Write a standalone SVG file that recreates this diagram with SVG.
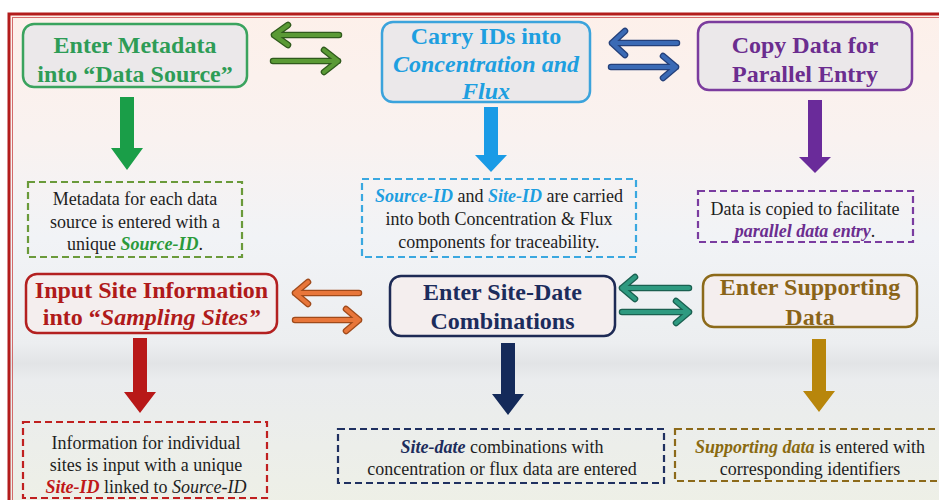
<svg xmlns="http://www.w3.org/2000/svg" width="939" height="500" viewBox="0 0 939 500">
<defs>
<linearGradient id="bg" x1="0" y1="0" x2="0" y2="1">
<stop offset="0" stop-color="#fdf0ea"/>
<stop offset="0.25" stop-color="#f9f2f0"/>
<stop offset="0.45" stop-color="#f1f3f6"/>
<stop offset="0.66" stop-color="#eceef0"/>
<stop offset="0.7" stop-color="#e2e4e6"/>
<stop offset="0.73" stop-color="#eaecee"/>
<stop offset="1" stop-color="#eef0e6"/>
</linearGradient>
<style>
.title{font-family:"Liberation Serif","Times New Roman",serif;font-weight:bold;font-size:24px;text-anchor:middle}
.det{font-family:"Liberation Serif","Times New Roman",serif;font-size:18px;text-anchor:middle;fill:#1e1e1e}
.bi{font-weight:bold;font-style:italic}
.it{font-style:italic}
.node{stroke-width:2.5}
.dash{stroke-width:2.2;stroke-dasharray:7 4;fill:none}
.out{fill:none;stroke-width:6.5;stroke-linecap:round;stroke-linejoin:round}
.in{fill:none;stroke-width:4;stroke-linecap:round;stroke-linejoin:round}
</style>
</defs>
<rect x="0" y="0" width="939" height="500" fill="#ffffff"/>
<rect x="9" y="14" width="940" height="500" fill="url(#bg)" stroke="#b31c1c" stroke-width="3"/>
<rect x="12.5" y="17.5" width="940" height="500" fill="none" stroke="#d46a6a" stroke-width="1"/>

<g id="n1">
<rect class="node" x="23" y="24" width="224" height="63" rx="11" fill="#ebe8ea" stroke="#3aa35e"/>
<text class="title" fill="#2e9c56" x="135" y="53">Enter Metadata</text>
<text class="title" fill="#2e9c56" x="135" y="82">into “Data Source”</text>
</g>
<g id="n2">
<rect class="node" x="382" y="22" width="208" height="80" rx="11" fill="#ebe8ea" stroke="#3ba3dc"/>
<text class="title" fill="#1e9fe0" x="486" y="44">Carry IDs into</text>
<text class="title bi" fill="#1e9fe0" x="486" y="72">Concentration and</text>
<text class="title bi" fill="#1e9fe0" x="486" y="99">Flux</text>
</g>
<g id="n3">
<rect class="node" x="698" y="22" width="214" height="68" rx="11" fill="#ebe8ea" stroke="#7b3c9e"/>
<text class="title" fill="#6b2d8f" x="805" y="53">Copy Data for</text>
<text class="title" fill="#6b2d8f" x="805" y="82">Parallel Entry</text>
</g>
<g id="d1">
<rect class="dash" x="28" y="182" width="214" height="75" stroke="#6a9a3a"/>
<text class="det" x="135" y="205">Metadata for each data</text>
<text class="det" x="135" y="228">source is entered with a</text>
<text class="det" x="135" y="250">unique <tspan class="bi" fill="#2a9a3a">Source-ID</tspan>.</text>
</g>
<g id="d2">
<rect class="dash" x="362" y="179" width="274" height="78" stroke="#3aa8e0"/>
<text class="det" x="499" y="202"><tspan class="bi" fill="#1e9ee0">Source-ID</tspan> and <tspan class="bi" fill="#1e9ee0">Site-ID</tspan> are carried</text>
<text class="det" x="499" y="225">into both Concentration &amp; Flux</text>
<text class="det" x="499" y="248">components for traceability.</text>
</g>
<g id="d3">
<rect class="dash" x="698" y="191" width="215" height="51" stroke="#7a3ca0"/>
<text class="det" x="805" y="215">Data is copied to facilitate</text>
<text class="det" x="805" y="237"><tspan class="bi" fill="#6b2d8f">parallel data entry</tspan>.</text>
</g>
<g id="n4">
<rect class="node" x="26" y="274" width="251" height="59" rx="11" fill="#f4eeee" stroke="#b32020"/>
<text class="title" fill="#b01a1a" x="151.5" y="298">Input Site Information</text>
<text class="title" fill="#b01a1a" x="151.5" y="325">into “<tspan class="it">Sampling Sites”</tspan></text>
</g>
<g id="n5">
<rect class="node" x="390" y="276" width="225" height="60" rx="11" fill="#f4eeee" stroke="#1d2a55"/>
<text class="title" fill="#1c2c5c" x="502.5" y="300">Enter Site-Date</text>
<text class="title" fill="#1c2c5c" x="502.5" y="329">Combinations</text>
</g>
<g id="n6">
<rect class="node" x="703" y="275" width="214" height="52" rx="11" fill="#f4eeee" stroke="#8c6a1a"/>
<text class="title" fill="#8a6418" x="810" y="295">Enter Supporting</text>
<text class="title" fill="#8a6418" x="810" y="325">Data</text>
</g>
<g id="d4">
<rect class="dash" x="23" y="422" width="244" height="76" stroke="#c02020"/>
<text class="det" x="146" y="449">Information for individual</text>
<text class="det" x="146" y="471">sites is input with a unique</text>
<text class="det" x="146" y="493"><tspan class="bi" fill="#c01818">Site-ID</tspan> linked to <tspan class="it">Source-ID</tspan></text>
</g>
<g id="d5">
<rect class="dash" x="338" y="429" width="326" height="54" stroke="#1f3060"/>
<text class="det" x="502" y="453"><tspan class="bi" fill="#1c2c5c">Site-date</tspan> combinations with</text>
<text class="det" x="502" y="475">concentration or flux data are entered</text>
</g>
<g id="d6">
<rect class="dash" x="675" y="429" width="270" height="52" stroke="#8c6a1a"/>
<text class="det" x="810" y="453"><tspan class="bi" fill="#8a6a10">Supporting data</tspan> is entered with</text>
<text class="det" x="810" y="475">corresponding identifiers</text>
</g>

<g id="connectors">
<!-- green pair -->
<path class="out" stroke="#2f5a1c" d="M339,35 H274 M288,25 L274,35 L288,45"/>
<path class="in" stroke="#5a9a35" d="M339,35 H274 M288,25 L274,35 L288,45"/>
<path class="out" stroke="#2f5a1c" d="M273,61 H338 M324,50 L338,61 L324,72"/>
<path class="in" stroke="#5a9a35" d="M273,61 H338 M324,50 L338,61 L324,72"/>
<!-- blue pair -->
<path class="out" stroke="#24407a" d="M677,43 H612 M625,31 L612,43 L625,55"/>
<path class="in" stroke="#3a6ab5" d="M677,43 H612 M625,31 L612,43 L625,55"/>
<path class="out" stroke="#24407a" d="M611,67 H676 M663,56 L676,67 L663,78"/>
<path class="in" stroke="#3a6ab5" d="M611,67 H676 M663,56 L676,67 L663,78"/>
<!-- orange pair -->
<path class="out" stroke="#a04a1a" d="M359,293 H295 M308,282 L295,293 L308,304"/>
<path class="in" stroke="#e8763a" d="M359,293 H295 M308,282 L295,293 L308,304"/>
<path class="out" stroke="#a04a1a" d="M295,320 H359 M346,309 L359,320 L346,331"/>
<path class="in" stroke="#e8763a" d="M295,320 H359 M346,309 L359,320 L346,331"/>
<!-- teal pair -->
<path class="out" stroke="#1a6050" d="M689,288 H622 M635,277 L622,288 L635,299"/>
<path class="in" stroke="#2e9a80" d="M689,288 H622 M635,277 L622,288 L635,299"/>
<path class="out" stroke="#1a6050" d="M622,312 H689 M676,301 L689,312 L676,323"/>
<path class="in" stroke="#2e9a80" d="M622,312 H689 M676,301 L689,312 L676,323"/>
<!-- down arrows -->
<polygon fill="#1a9e48" points="120,97 134,97 134,148 143,148 127,170 111,148 120,148"/>
<polygon fill="#1a9be6" points="484,107 498,107 498,155 507,155 491,172 475,155 484,155"/>
<polygon fill="#6a2b9a" points="808,100 822,100 822,157 831,157 815,173 799,157 808,157"/>
<polygon fill="#b81818" points="133,338 147,338 147,392 156,392 140,413 124,392 133,392"/>
<polygon fill="#142a5a" points="501,343 515,343 515,394 524,394 508,415 492,394 501,394"/>
<polygon fill="#b8860b" points="812,339 826,339 826,391 835,391 819,412 803,391 812,391"/>
</g>
</svg>
